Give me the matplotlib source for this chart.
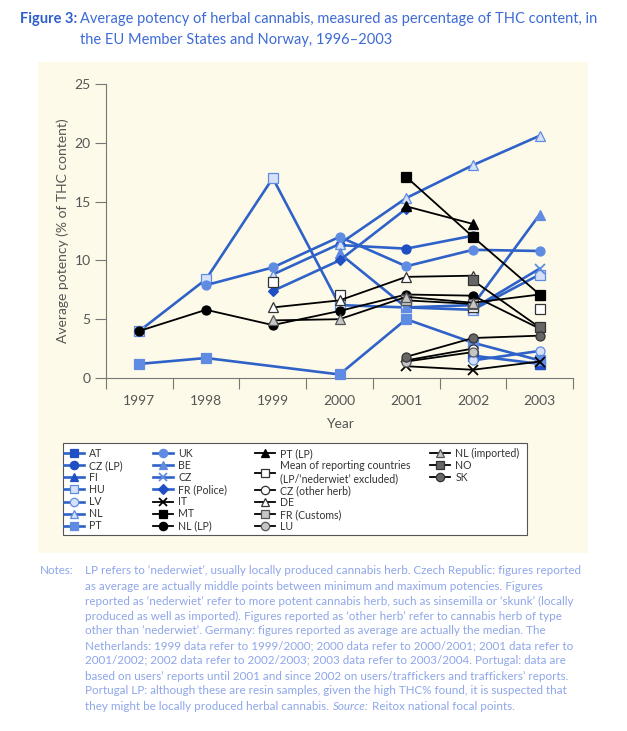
import numpy as np
import matplotlib
matplotlib.use("Agg")
import matplotlib.pyplot as plt
from matplotlib.lines import Line2D
from matplotlib.patches import Rectangle

plt.rcParams.update({"font.family": ["Lato", "DejaVu Sans"]})

W, H = 627, 731
nan = np.nan

YEARS = [1997, 1998, 1999, 2000, 2001, 2002, 2003]

# average THC % per series (nan = not reported)
AT = [nan, nan, nan, nan, nan, 1.9, 1.2]
CZ_LP = [nan, nan, nan, 11.3, 11.0, 12.1, nan]
FI = [nan, nan, nan, nan, nan, nan, 1.2]
HU = [4.0, 8.4, 17.0, 6.2, 6.0, 5.8, 8.8]
LV = [nan, nan, nan, nan, nan, 1.5, 2.3]
NL = [nan, nan, 8.8, 11.4, 15.3, 18.1, 20.6]
PT = [1.2, 1.7, nan, 0.3, 5.0, 3.0, 1.5]
UK = [nan, 7.9, 9.4, 12.0, 9.5, 10.9, 10.8]
BE = [nan, nan, nan, 10.6, 6.0, 6.2, 13.9]
CZ = [nan, nan, nan, nan, nan, 5.9, 9.3]
FR_POLICE = [nan, nan, 7.4, 10.0, 14.4, nan, nan]
IT = [nan, nan, nan, nan, 1.0, 0.7, 1.4]
MT = [nan, nan, nan, nan, 17.1, 12.0, 7.1]
NL_LP = [4.0, 5.8, 4.5, 5.7, 7.1, 7.0, 4.2]
PT_LP = [nan, nan, nan, nan, 14.6, 13.1, nan]
MEAN = [nan, nan, 8.2, 7.1, 6.7, 6.0, 5.9]
CZ_OTHER = [nan, nan, nan, nan, 1.5, 2.5, nan]
DE = [nan, nan, 6.0, 6.6, 8.6, 8.7, nan]
FR_CUSTOMS = [nan, nan, nan, nan, 6.6, 6.3, nan]
LU = [nan, nan, nan, nan, 1.4, 2.2, nan]
NL_IMP = [nan, nan, 4.9, 5.0, 6.9, 6.4, 7.1]
NO = [nan, nan, nan, nan, nan, 8.3, 4.3]
SK = [nan, nan, nan, nan, 1.8, 3.4, 3.6]

YTICKS = [0, 5, 10, 15, 20, 25]

# colours
BL = "#2f62c8"   # blue lines
DB = "#1f4fc2"   # dark blue markers
MB = "#5f8ce2"   # mid blue markers
PB = "#d6e1f8"   # pale blue fill
LG = "#c6c6c6"
DG = "#666666"
CREAM = "#fdfae9"
TXT = "#555555"

# label, data, line colour, marker, face, edge
STYLE = [
    ("AT", AT, BL, "s", DB, DB),
    ("CZ (LP)", CZ_LP, BL, "o", DB, DB),
    ("FI", FI, BL, "^", DB, DB),
    ("HU", HU, BL, "s", PB, MB),
    ("LV", LV, BL, "o", PB, MB),
    ("NL", NL, BL, "^", PB, MB),
    ("PT", PT, BL, "s", MB, MB),
    ("UK", UK, BL, "o", MB, MB),
    ("BE", BE, BL, "^", MB, MB),
    ("CZ", CZ, BL, "x", MB, MB),
    ("FR (Police)", FR_POLICE, BL, "D", DB, DB),
    ("IT", IT, "black", "x", "black", "black"),
    ("MT", MT, "black", "s", "black", "black"),
    ("NL (LP)", NL_LP, "black", "o", "black", "black"),
    ("PT (LP)", PT_LP, "black", "^", "black", "black"),
    ("Mean of reporting countries\n(LP/\u2018nederwiet\u2019 excluded)", MEAN, "black", "s", "white", "#333333"),
    ("CZ (other herb)", CZ_OTHER, "black", "o", "white", "#333333"),
    ("DE", DE, "black", "^", "white", "#333333"),
    ("FR (Customs)", FR_CUSTOMS, "black", "s", LG, "#555555"),
    ("LU", LU, "black", "o", LG, "#555555"),
    ("NL (imported)", NL_IMP, "black", "^", LG, "#555555"),
    ("NO", NO, "black", "s", DG, "#333333"),
    ("SK", SK, "black", "o", DG, "#333333"),
]
COLS = [STYLE[0:7], STYLE[7:14], STYLE[14:20], STYLE[20:23]]

NOTES = [
    "LP refers to \u2018nederwiet\u2019, usually locally produced cannabis herb. Czech Republic: figures reported",
    "as average are actually middle points between minimum and maximum potencies. Figures",
    "reported as \u2018nederwiet\u2019 refer to more potent cannabis herb, such as sinsemilla or \u2018skunk\u2019 (locally",
    "produced as well as imported). Figures reported as \u2018other herb\u2019 refer to cannabis herb of type",
    "other than \u2018nederwiet\u2019. Germany: figures reported as average are actually the median. The",
    "Netherlands: 1999 data refer to 1999/2000; 2000 data refer to 2000/2001; 2001 data refer to",
    "2001/2002; 2002 data refer to 2002/2003; 2003 data refer to 2003/2004. Portugal: data are",
    "based on users\u2019 reports until 2001 and since 2002 on users/traffickers and traffickers\u2019 reports.",
    "Portugal LP: although these are resin samples, given the high THC% found, it is suspected that",
    "they might be locally produced herbal cannabis.",
]


def fx(px):
    return px / W


def fy(py):
    return 1 - py / H


fig = plt.figure(figsize=(W / 100, H / 100), dpi=100, facecolor="white")
fig.patches.append(Rectangle((fx(38), fy(553)), fx(588) - fx(38), fy(62) - fy(553),
                             transform=fig.transFigure, facecolor=CREAM, edgecolor="none", zorder=-5))

ax = fig.add_axes([fx(106), fy(378), fx(573) - fx(106), fy(84) - fy(378)])
ax.set_facecolor("none")

years = np.array(YEARS)
for label, vals, lc, mk, fc, ec in STYLE:
    v = np.array(vals, dtype=float)
    ok = ~np.isnan(v)
    blue = lc == BL
    ls = "none" if vals is MEAN else "-"
    # MT sits on top of the NL (imported) end point in 2003
    z = 3.5 if label == "MT" else 3
    ax.plot(years[ok], v[ok], ls=ls, color=lc, lw=1.9 if blue else 1.3,
            marker=mk, ms=6.5 if mk != "D" else 5.5, mfc=fc, mec=ec,
            mew=1.3 if mk == "x" else 0.9, clip_on=False, zorder=z)

ax.set_xlim(1996.5, 2003.5)
ax.set_ylim(0, 25)
ax.set_yticks(YTICKS)
ax.set_xticks(YEARS)
ax.set_xticks(np.arange(1996.5, 2004, 1.0), minor=True)
ax.tick_params(axis="x", which="major", length=0, pad=12, labelsize=10, labelcolor=TXT)
ax.tick_params(axis="x", which="minor", length=8, width=0.8, color="#777777")
ax.tick_params(axis="y", length=8, width=0.8, color="#777777", labelsize=10,
               labelcolor=TXT, pad=3)
for s in ["top", "right"]:
    ax.spines[s].set_visible(False)
for s in ["left", "bottom"]:
    ax.spines[s].set_color("#777777")
    ax.spines[s].set_linewidth(0.8)
ax.set_ylabel("Average potency (% of THC content)", color=TXT, fontsize=10, labelpad=4)
ax.set_xlabel("Year", color=TXT, fontsize=10, labelpad=8)

# legend box with four columns
fig.patches.append(Rectangle((fx(63), fy(535)), fx(527) - fx(63), fy(443) - fy(535),
                             transform=fig.transFigure, facecolor="white",
                             edgecolor="#555555", lw=0.8, zorder=1))
col_x = [64, 153, 255, 430]
for cx, col in zip(col_x, COLS):
    handles = [Line2D([], [], color=lc, lw=1.9 if lc == BL else 1.3, marker=mk,
                      ms=6 if mk != "D" else 5.5, mfc=fc, mec=ec,
                      mew=1.3 if mk == "x" else 0.9)
               for _, _, lc, mk, fc, ec in col]
    leg = fig.legend(handles, [c[0] for c in col], loc="upper left",
                     bbox_to_anchor=(fx(cx), fy(448)), frameon=False, fontsize=7.6,
                     handlelength=1.9, handletextpad=0.5, labelspacing=0.1,
                     borderpad=0, borderaxespad=0)
    for t in leg.get_texts():
        t.set_color("#333333")
    leg.set_zorder(2)

# title
fig.text(fx(77), fy(19), "Figure 3:", ha="right", va="center", fontsize=10.5,
         fontweight="bold", color="#2f5fcc")
fig.text(fx(80), fy(19), "Average potency of herbal cannabis, measured as percentage of THC content, in",
         ha="left", va="center", fontsize=10.5, color="#3d6bd6")
fig.text(fx(80), fy(40), "the EU Member States and Norway, 1996\u20132003",
         ha="left", va="center", fontsize=10.5, color="#3d6bd6")

# notes
NOTE_C = "#8ea6ea"
fig.text(fx(40), fy(571), "Notes:", ha="left", va="center", fontsize=8.4, color=NOTE_C)
for i, line in enumerate(NOTES):
    t = fig.text(fx(85), fy(571 + 15 * i), line, ha="left", va="center",
                 fontsize=8.4, color=NOTE_C)
fig.canvas.draw()
bb = t.get_window_extent()
x_end = bb.x1 / W
s = fig.text(x_end + fx(4), fy(571 + 15 * 9), "Source:", ha="left", va="center",
             fontsize=8.4, color=NOTE_C, style="italic")
bb2 = s.get_window_extent()
fig.text(bb2.x1 / W + fx(3), fy(571 + 15 * 9), "Reitox national focal points.",
         ha="left", va="center", fontsize=8.4, color=NOTE_C)

fig.savefig("out.png", dpi=100, facecolor="white")
